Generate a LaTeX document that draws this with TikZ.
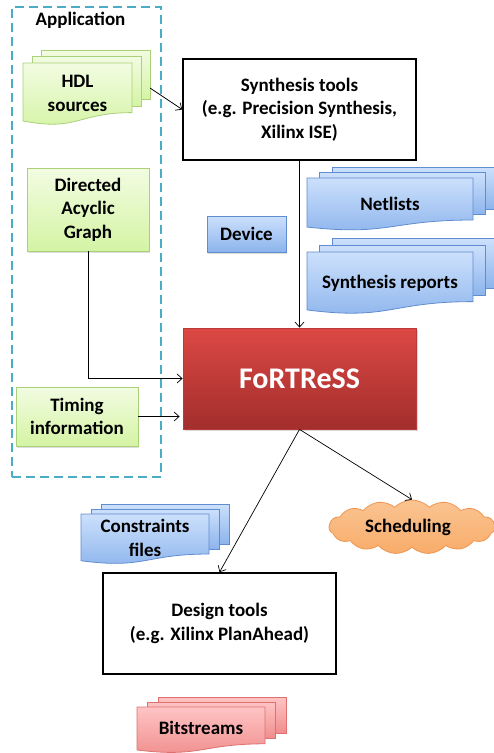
\documentclass[tikz,border=0pt]{standalone}
\usepackage{fontspec}
\setmainfont{Carlito}
\usetikzlibrary{arrows.meta,shapes.symbols,shadows}
\definecolor{appdash}{RGB}{75,172,198}
\definecolor{gtop}{RGB}{242,252,226}
\definecolor{gbot}{RGB}{212,244,164}
\definecolor{gdraw}{RGB}{170,208,120}
\definecolor{btop}{RGB}{204,224,252}
\definecolor{bbot}{RGB}{140,180,236}
\definecolor{bdraw}{RGB}{96,140,208}
\definecolor{rtop}{RGB}{255,196,196}
\definecolor{rbot}{RGB}{240,140,140}
\definecolor{rdraw}{RGB}{222,112,112}
\definecolor{ofill}{RGB}{250,196,146}
\definecolor{ofill2}{RGB}{248,172,106}
\definecolor{odraw}{RGB}{240,150,80}
\definecolor{ftop}{RGB}{220,72,68}
\definecolor{fbot}{RGB}{162,46,44}
\definecolor{fdraw}{RGB}{186,58,56}
\newcommand\multidoc[7]{%
  \foreach \i in {2,1}{%
    \path[#7] ({#1+\i*#5},{#2-\i*#6}) rectangle ++(#3,{0.8*#4});
  }%
  \path[#7] (#1,#2) -- ++(#3,0) -- ++(0,{0.8*#4})
    .. controls +({-0.5*#3},0) and ({#1+0.5*#3},{#2+1.107*#4}) .. (#1,{#2+0.934*#4}) -- cycle;
}
\tikzset{
  lbl/.style={align=center, inner sep=0pt},
  gdoc/.style={draw=gdraw, top color=gtop, bottom color=gbot, line width=0.8pt},
  bdoc/.style={draw=bdraw, top color=btop, bottom color=bbot, line width=0.8pt},
  rdoc/.style={draw=rdraw, top color=rtop, bottom color=rbot, line width=0.8pt},
  gbox/.style={draw=gdraw, top color=gtop, bottom color=gbot, line width=0.8pt, align=center, inner sep=0pt,
    drop shadow={opacity=0.25, shadow xshift=1pt, shadow yshift=-1.5pt}},
  bbox/.style={draw=bdraw, top color=btop, bottom color=bbot, line width=0.8pt, align=center, inner sep=0pt,
    drop shadow={opacity=0.25, shadow xshift=1pt, shadow yshift=-1.5pt}},
  toolbox/.style={draw=black, fill=white, line width=1.5pt, align=center, inner sep=0pt},
  conn/.style={line width=0.7pt, -{Straight Barb[length=5pt,width=9pt]}},
}
\begin{document}
\begin{tikzpicture}[x=1pt,y=-1pt, font=\bfseries\fontsize{19}{23.5}\selectfont]
\useasboundingbox[fill=white] (0,0) rectangle (494,753);

% Application frame
\node[draw=appdash, line width=1.8pt, dash pattern=on 9pt off 5pt, minimum width=149pt, minimum height=470pt, inner sep=0pt] (app) at (86.5,242) {};
\node[lbl] (apptitle) at (80.5,20) {Application};

% HDL sources
\multidoc{23}{63}{109}{62}{9}{6.5}{gdoc}
\node[lbl] (hdl) at (77.5,93.5) {HDL\\sources};
\coordinate (hdlR) at (150,88);

% DAG
\node[gbox, minimum width=122pt, minimum height=83pt] (dag) at (88,209.5) {Directed\\Acyclic\\Graph};

% Timing
\node[gbox, minimum width=122pt, minimum height=59pt] (timing) at (77,416.5) {Timing\\information};

% Synthesis tools
\node[toolbox, minimum width=233pt, minimum height=101pt] (synth) at (299.5,109.5) {Synthesis tools\\(e.g. Precision Synthesis,\\Xilinx ISE)};

% Device
\node[bbox, minimum width=79pt, minimum height=36pt] (device) at (246.5,234) {Device};

% Netlists
\multidoc{307}{178}{166}{52.5}{12.5}{5.3}{bdoc}
\node[lbl] (net) at (390,204) {Netlists};

% Synthesis reports
\multidoc{307}{252}{166}{62}{12.5}{6.7}{bdoc}
\node[lbl] (rep) at (390,283) {Synthesis reports};

% FoRTReSS
\node[draw=fdraw, top color=ftop, bottom color=fbot, line width=0.8pt, minimum width=233pt, minimum height=101pt, inner sep=0pt,
  text=white, font=\bfseries\fontsize{30}{34}\selectfont,
  drop shadow={opacity=0.3, shadow xshift=1.5pt, shadow yshift=-2pt}] (fort) at (299.5,378.5) {FoRTReSS};

% Scheduling cloud
\node[cloud, cloud puffs=15, cloud puff arc=90, aspect=3.0, draw=odraw, top color=ofill, bottom color=ofill2, line width=0.8pt,
  minimum width=166pt, minimum height=54pt, inner sep=0pt] (sched) at (412,527) {};
\node[lbl] (schedtxt) at (408,527) {Scheduling};

% Constraints files
\multidoc{81}{514}{128}{50}{10}{5}{bdoc}
\node[lbl] (cons) at (145,538) {Constraints\\files};

% Design tools
\node[toolbox, minimum width=233pt, minimum height=101pt] (design) at (219.5,623.5) {Design tools\\(e.g. Xilinx PlanAhead)};

% Bitstreams
\multidoc{137}{707}{128}{46}{10.5}{5}{rdoc}
\node[lbl] (bits) at (201,728) {Bitstreams};

% connectors
\draw[conn] (hdlR) -- (synth.west);
\draw[conn] (synth.south) -- (fort.north);
\draw[conn] (dag.south) |- (fort.west);
\draw[conn] (timing.east) -- ([xshift=-3pt]fort.west |- timing.east);
\draw[conn] (fort.south) -- (sched.north);
\draw[conn] (fort.south) -- (design.north);
\end{tikzpicture}
\end{document}
